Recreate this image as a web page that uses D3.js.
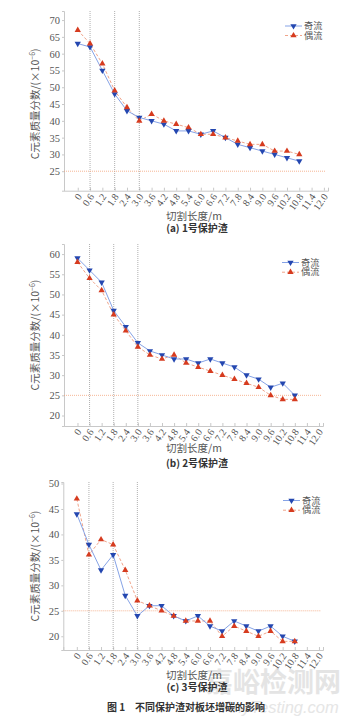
<!DOCTYPE html>
<html><head><meta charset="utf-8">
<script src="https://cdn.jsdelivr.net/npm/d3@7"></script>
<style>
html,body{margin:0;padding:0;background:#fff;}
svg{display:block;}
</style></head>
<body>
<svg id="c" width="354" height="724"></svg>
<script>
// ---- data ----
const tickLabels = ["0","0.6","1.2","1.8","2.4","3.0","3.6","4.2","4.8","5.4","6.0","6.6","7.2","7.8","8.4","9.0","9.6","10.2","10.8","11.4","12.0"];
const lengths = [0,0.6,1.2,1.8,2.4,3.0,3.6,4.2,4.8,5.4,6.0,6.6,7.2,7.8,8.4,9.0,9.6,10.2,10.8];
const seriesNames = ["奇流","偶流"];
const refLengths = [0.6,1.8,3.0];
const limitValue = 25;

const oddA  = [63,62,55,48,43,41,40,39,37,37,36,37,35,33,32,31,30,29,28];
const evenA = [67,63,57,49,44,40,42,40,39,38,36,36,35,34,33,33,31,31,30];
const ticksA = [25,30,35,40,45,50,55,60,65,70];

const oddB  = [59,56,53,46,42,38,36,35,34,34,33,34,33,32,30,29,27,28,25];
const evenB = [58,54,51,45,41,37,35,34,35,33,32,31,30,29,28,27,25,24,24];
const ticksB = [20,25,30,35,40,45,50,55,60];

const oddC  = [44,38,33,36,28,24,26,26,24,23,24,22,21,23,22,21,22,20,19];
const evenC = [47,36,39,38,33,27,26,25,24,23,23,23,20,22,21,20,21,19,19];
const ticksC = [20,25,30,35,40,45,50];

const captions = ["(a) 1号保护渣","(b) 2号保护渣","(c) 3号保护渣"];
const xTitle = "切割长度/m";
const figCaption = "图 1　不同保护渣对板坯增碳的影响";

// ---- layout ----
const panels = [
  {odd:oddA, even:evenA, ticks:ticksA, yDom:[19.2,72.7], left:64, right:328, top:11, bottom:190.7,
   legX:285, legY:[26,35.5], xTitleY:219.5, capY:231.5, cap:captions[0], ytOff:3},
  {odd:oddB, even:evenB, ticks:ticksB, yDom:[17.4,62.5], left:64, right:323, top:244, bottom:426,
   legX:282, legY:[262.5,272.2], xTitleY:451.5, capY:467, cap:captions[1], ytOff:0},
  {odd:oddC, even:evenC, ticks:ticksC, yDom:[17.3,50.3], left:63.3, right:323, top:482, bottom:650,
   legX:283, legY:[500.5,510.2], xTitleY:679, capY:691, cap:captions[2], ytOff:0}
];

const svg = d3.select("#c");
const serif = "'Liberation Serif','DejaVu Serif',serif";
const cjk = "'Noto Sans CJK SC','Noto Sans',sans-serif";
const blueLine = "#86a3e6", blueMark = "#2447b0";
const redLine = "#f0a48a", redMark = "#d63b1f";

// watermark (behind everything)
svg.append("text").attr("x", 206).attr("y", 692).attr("font-family", cjk).attr("font-size", 27)
  .attr("font-weight", 700).attr("fill", "#dedede").attr("opacity", 0.8).text("嘉峪检测网");
svg.append("text").attr("x", 222).attr("y", 713).attr("font-family", "'Liberation Sans',sans-serif").attr("font-size", 16.5)
  .attr("font-style", "italic").attr("fill", "#e0e0e0").attr("opacity", 0.8).text("AnyTesting.com");

panels.forEach(p => {
  const g = svg.append("g");
  const x = d3.scaleLinear().domain([-0.67, 12.2]).range([p.left, p.right]);
  const y = d3.scaleLinear().domain(p.yDom).range([p.bottom, p.top]);

  // axes
  const ya = g.append("g").attr("transform", `translate(${p.left},0)`)
    .call(d3.axisLeft(y).tickValues(p.ticks).tickSize(2).tickPadding(2).tickFormat(d3.format("d")));
  ya.select(".domain").attr("stroke", "#c8c8c8");
  ya.selectAll(".tick line").attr("stroke", "#c8c8c8");
  ya.selectAll("text").attr("font-family", serif).attr("font-size", 10.5).attr("fill", "#555");

  const xa = g.append("g").attr("transform", `translate(0,${p.bottom})`)
    .call(d3.axisBottom(x).tickValues(tickLabels.map(Number)).tickSize(-3).tickFormat((d,i)=>tickLabels[i]));
  xa.select(".domain").attr("stroke", "#c8c8c8");
  xa.selectAll(".tick line").attr("stroke", "#c8c8c8");
  xa.selectAll("text").attr("font-family", serif).attr("font-size", 10).attr("fill", "#555")
    .attr("text-anchor", "end").attr("dy", null).attr("y", 0)
    .attr("transform", "translate(4,6) rotate(-55)");

  // reference lines
  g.selectAll(".vref").data(refLengths).join("line")
    .attr("x1", d => x(d)).attr("x2", d => x(d))
    .attr("y1", p.top).attr("y2", p.bottom)
    .attr("stroke", "#9a9a9a").attr("stroke-width", 0.8).attr("stroke-dasharray", "1,1");
  g.append("line").attr("x1", p.left).attr("x2", p.right - 2)
    .attr("y1", y(limitValue)).attr("y2", y(limitValue))
    .attr("stroke", "#f2a27a").attr("stroke-width", 0.8).attr("stroke-dasharray", "1,1");

  // series
  const line = d3.line().x((d,i)=>x(lengths[i])).y(d=>y(d));
  g.append("path").attr("d", line(p.even)).attr("fill","none")
    .attr("stroke", redLine).attr("stroke-width", 1).attr("stroke-dasharray","3,2");
  g.append("path").attr("d", line(p.odd)).attr("fill","none")
    .attr("stroke", blueLine).attr("stroke-width", 1);
  const tri = d3.symbol().type(d3.symbolTriangle).size(17);
  g.selectAll(".mo").data(p.odd).join("path")
    .attr("d", tri).attr("fill", blueMark)
    .attr("transform", (d,i)=>`translate(${x(lengths[i])},${y(d)}) rotate(180)`);
  g.selectAll(".me").data(p.even).join("path")
    .attr("d", tri).attr("fill", redMark)
    .attr("transform", (d,i)=>`translate(${x(lengths[i])},${y(d)})`);

  // legend
  [[blueLine, blueMark, null, 180],[redLine, redMark, "3,2", 0]].forEach((s,k) => {
    const ly = p.legY[k];
    g.append("line").attr("x1", p.legX).attr("x2", p.legX+17).attr("y1", ly).attr("y2", ly)
      .attr("stroke", s[0]).attr("stroke-width", 1).attr("stroke-dasharray", s[2]);
    g.append("path").attr("d", tri).attr("fill", s[1])
      .attr("transform", `translate(${p.legX+8.5},${ly}) rotate(${s[3]})`);
    g.append("text").attr("x", p.legX+19).attr("y", ly).attr("dy", "0.35em")
      .attr("font-family", cjk).attr("font-size", 9.2).attr("fill", "#555").text(seriesNames[k]);
  });

  // y title
  const yt = g.append("text")
    .attr("transform", `translate(39,${(p.top+p.bottom)/2 + p.ytOff}) rotate(-90)`)
    .attr("text-anchor", "middle").attr("font-family", cjk).attr("font-size", 10.5).attr("fill", "#555");
  yt.append("tspan").text("C元素质量分数/(×10");
  yt.append("tspan").attr("font-size", 7).attr("dy", -4).text("−6");
  yt.append("tspan").attr("dy", 4).text(")");

  // x title and caption
  g.append("text").attr("x", 194).attr("y", p.xTitleY).attr("text-anchor","middle")
    .attr("font-family", cjk).attr("font-size", 10.5).attr("fill","#555").text(xTitle);
  g.append("text").attr("x", 197).attr("y", p.capY).attr("text-anchor","middle")
    .attr("font-family", cjk).attr("font-size", 10).attr("font-weight", 700).attr("fill","#333").text(p.cap);
});

// figure caption
svg.append("text").attr("x", 186).attr("y", 711).attr("text-anchor","middle")
  .attr("font-family", cjk).attr("font-size", 10).attr("font-weight", 700).attr("fill","#333").text(figCaption);
</script>
</body></html>
